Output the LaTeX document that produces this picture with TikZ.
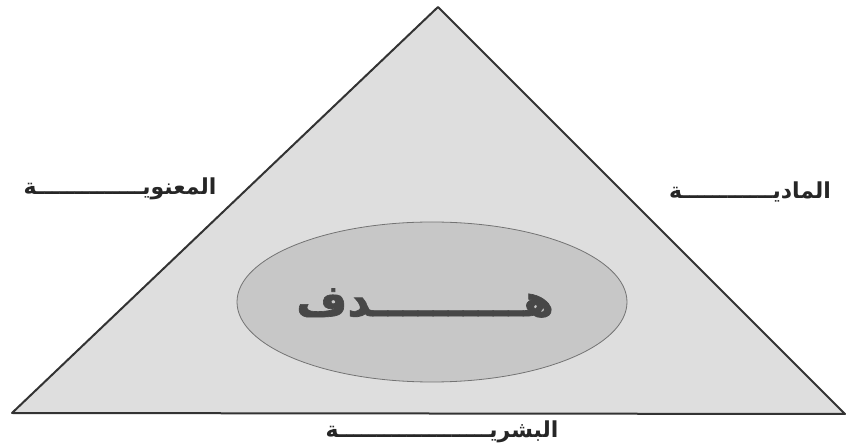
\documentclass[tikz,border=0pt]{standalone}
\usepackage{fontspec}
\usetikzlibrary{shapes.geometric}
\newfontfamily\arabicfont[Script=Arabic]{DejaVu Sans}
\newfontfamily\arabicheavy[Script=Arabic,FakeBold=1.5]{DejaVu Sans Bold}
\TeXXeTstate=1
\begin{document}
\begin{tikzpicture}[x=1pt,y=-1pt,
  edge/.style={draw=black!80,line width=2pt,line join=round},
  lbl/.style={font=\arabicfont\bfseries\fontsize{22}{26}\selectfont,text=black!85,inner sep=0pt},
  goal/.style={font=\arabicheavy\fontsize{44}{50}\selectfont,text=black!72,inner sep=0pt}]
\useasboundingbox (0,0) rectangle (847,446);
\coordinate (apex) at (438,7);
\coordinate (bl) at (12,413);
\coordinate (br) at (845,414);
\fill[black!13] (apex) -- (bl) -- (br) -- cycle;
\draw[edge] (apex) -- (bl) -- (br) -- cycle;
\node[draw=black!55,line width=0.8pt,fill=black!22,ellipse,minimum width=390pt,minimum height=160pt,inner sep=0pt] (ell) at (432,302) {};
\node[goal] (goaltext) at (425,303) {\beginR هــــــــــدف\endR};
\node[lbl] (left) at (120,189) {\beginR المعنويــــــــــــــة\endR};
\node[lbl] (right) at (750,192) {\beginR الماديــــــــــــة\endR};
\node[lbl] (bottom) at (442,432) {\beginR البشريــــــــــــــــــــة\endR};
\end{tikzpicture}
\end{document}
